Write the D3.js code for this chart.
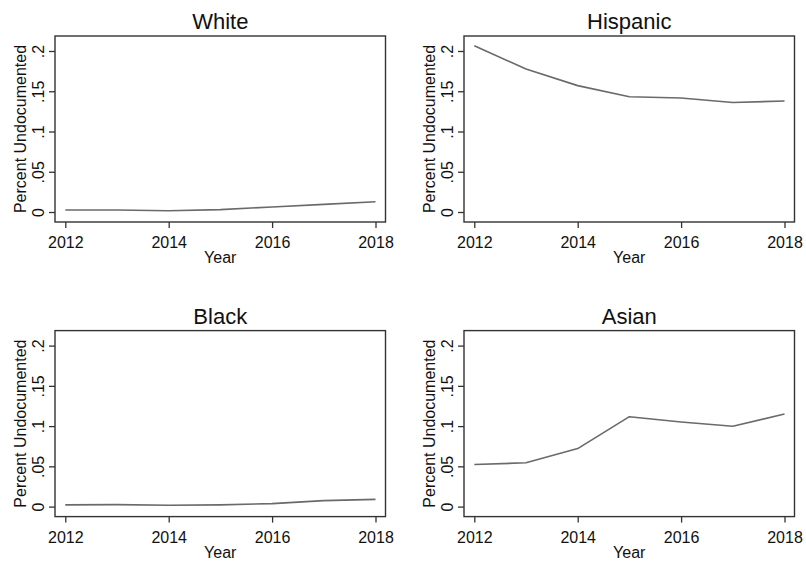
<!DOCTYPE html>
<html>
<head>
<meta charset="utf-8">
<script src="https://cdn.jsdelivr.net/npm/d3@7"></script>
<style>
  html, body { margin: 0; padding: 0; background: #fff; }
  svg { display: block; }
  text { font-family: "Liberation Sans", Arial, sans-serif; fill: #111; }
</style>
</head>
<body>
<svg id="chart" width="806" height="562"></svg>
<script>
// Share of population that is undocumented, by group and year
const years = [2012, 2013, 2014, 2015, 2016, 2017, 2018];
const white = [0.0025, 0.0024, 0.0016, 0.0030, 0.0062, 0.0095, 0.0128];
const hispanic = [0.2066, 0.1776, 0.1570, 0.1432, 0.1416, 0.1360, 0.1379];
const black = [0.0021, 0.0025, 0.0016, 0.0022, 0.0037, 0.0074, 0.0090];
const asian = [0.0523, 0.0544, 0.0721, 0.1117, 0.1051, 0.0998, 0.1150];

const panelTitles = ["White", "Hispanic", "Black", "Asian"];
const xTickValues = [2012, 2014, 2016, 2018];
const yTickValues = [0, 0.05, 0.1, 0.15, 0.2];
const yTickLabels = ["0", ".05", ".1", ".15", ".2"];
const xAxisTitle = "Year";
const yAxisTitle = "Percent Undocumented";

const seriesList = [white, hispanic, black, asian];

// Frame geometry for the 2x2 grid
const frameW = 330.5, frameH = 186;
const frameLefts = [55, 464];
const frameTops = [36, 330.6];

const svg = d3.select("#chart");
const axisColor = "#333";

seriesList.forEach((values, i) => {
  const left = frameLefts[i % 2];
  const top = frameTops[Math.floor(i / 2)];
  const right = left + frameW, bottom = top + frameH;

  const x = d3.scaleLinear().domain([2012, 2018]).range([left + 10.3, right - 10]);
  const y = d3.scaleLinear().domain([0, 0.2]).range([bottom - 10, top + 15]);

  const g = svg.append("g");

  // plot frame
  g.append("rect")
    .attr("x", left).attr("y", top)
    .attr("width", frameW).attr("height", frameH)
    .attr("fill", "none")
    .attr("stroke", axisColor)
    .attr("stroke-width", 1.4);

  // y axis with rotated tick labels
  const yAxis = g.append("g")
    .attr("transform", `translate(${left},0)`)
    .call(d3.axisLeft(y)
      .tickValues(yTickValues)
      .tickSize(6)
      .tickFormat((d, k) => yTickLabels[k]));
  yAxis.select(".domain").remove();
  yAxis.selectAll(".tick line").attr("stroke", axisColor).attr("stroke-width", 1.3);
  yAxis.selectAll(".tick text")
    .attr("transform", "rotate(-90)")
    .attr("x", 0).attr("y", -11.5).attr("dy", 0)
    .attr("text-anchor", "middle")
    .style("font-size", "16px")
    .style("font-family", "'Liberation Sans', Arial, sans-serif")
    .attr("fill", "#111");

  // x axis
  const xAxis = g.append("g")
    .attr("transform", `translate(0,${bottom})`)
    .call(d3.axisBottom(x)
      .tickValues(xTickValues)
      .tickSize(6)
      .tickFormat(d3.format("d")));
  xAxis.select(".domain").remove();
  xAxis.selectAll(".tick line").attr("stroke", axisColor).attr("stroke-width", 1.3);
  xAxis.selectAll(".tick text")
    .attr("y", 26).attr("dy", 0)
    .style("font-size", "16px")
    .style("font-family", "'Liberation Sans', Arial, sans-serif")
    .attr("fill", "#111");

  // series line
  const line = d3.line()
    .x((d, k) => x(years[k]))
    .y(d => y(d));
  g.append("path")
    .datum(values)
    .attr("d", line)
    .attr("fill", "none")
    .attr("stroke", "#6a6a6a")
    .attr("stroke-width", 1.6)
    .attr("stroke-linejoin", "round");

  // panel title
  g.append("text")
    .attr("x", (left + right) / 2)
    .attr("y", top - 7)
    .attr("text-anchor", "middle")
    .style("font-size", "22px")
    .text(panelTitles[i]);

  // axis titles
  g.append("text")
    .attr("x", (left + right) / 2)
    .attr("y", bottom + 41)
    .attr("text-anchor", "middle")
    .style("font-size", "16px")
    .text(xAxisTitle);

  g.append("text")
    .attr("transform", `translate(${left - 29.5},${(top + bottom) / 2}) rotate(-90)`)
    .attr("text-anchor", "middle")
    .style("font-size", "16px")
    .text(yAxisTitle);
});
</script>
</body>
</html>
